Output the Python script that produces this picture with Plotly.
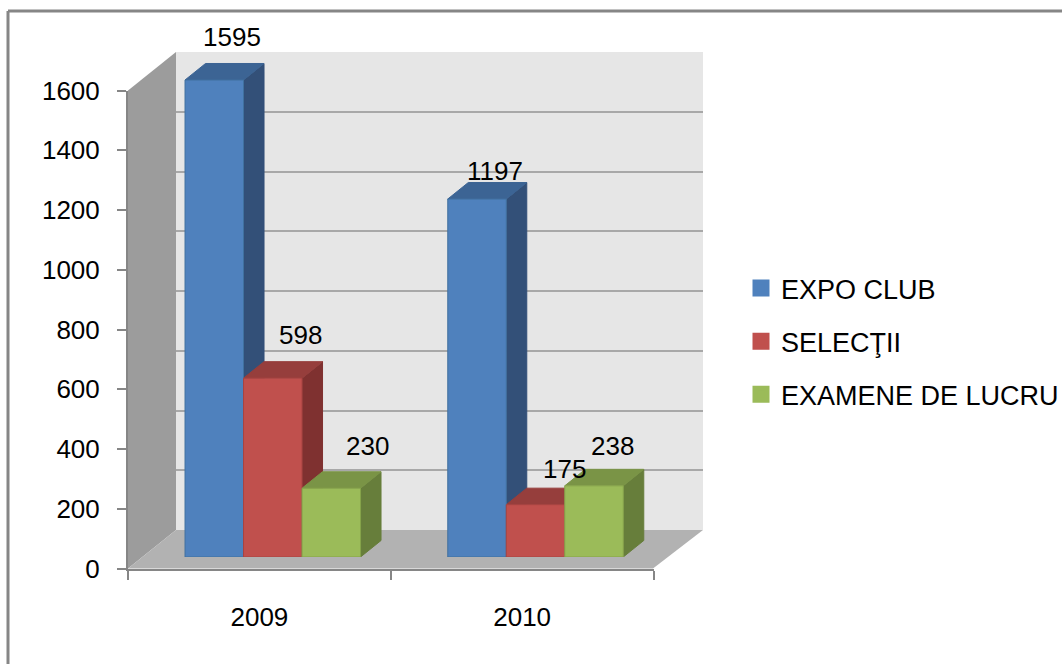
import plotly.graph_objects as go

YEARS = ["2009", "2010"]
SERIES = ["EXPO CLUB", "SELECŢII", "EXAMENE DE LUCRU"]
EXPO_CLUB = [1595, 1197]
SELECTII = [598, 175]
EXAMENE = [230, 238]
Y_TICKS = [0, 200, 400, 600, 800, 1000, 1200, 1400, 1600]

W, H = 1062, 664
FONT = "Liberation Sans, Arial, sans-serif"
FS = 26
LEG_FS = 27
GRID = "#a8a8a8"
AXIS = "#868686"

FRONT = ["#4f81bd", "#c0504d", "#9bbb59"]
TOP = ["#3c6494", "#963e3c", "#7a9446"]
SIDE = ["#335078", "#7f3130", "#677e3b"]
EDGE = ["#41719f", "#a84442", "#86a34b"]

# label nudges in pixels relative to the bar's top-centre: (dx, dy up)
LABEL_NUDGE = [[(18, 43), (18, 28)], [(28, 43), (29, 36)], [(36, 42), (18, 40)]]

PX_PER_UNIT = 478.5 / 1600
CAT_PX = 262.75
DEPTH_X = 20.5 / CAT_PX
DEPTH_Y = 16.5 / PX_PER_UNIT
WALL_X = 48 / 263.5
WALL_Y = 38.5 / (478 / 1600)
BAR_W = (175.5 / 3) / CAT_PX
FACE_TOP = 1750  # the depth faces need head-room above 1600


def px(x):
    return x / W


def py(y):
    return 1 - y / H


def poly(points, color):
    d = "M" + " L".join(f"{px(x)},{py(y)}" for x, y in points) + " Z"
    return dict(type="path", xref="paper", yref="paper", path=d, fillcolor=color,
                line=dict(width=0), layer="below")


def frame_line(x0, y0, x1, y1):
    return dict(type="line", xref="paper", yref="paper", x0=px(x0), y0=py(y0), x1=px(x1), y1=py(y1),
                line=dict(color=AXIS, width=3), layer="below")


shapes = [
    frame_line(8, 11, W, 11),
    frame_line(8, 11, 8, H),
    poly([(176, 52), (703, 52), (703, 530), (176, 530)], "#e6e6e6"),
    poly([(128, 90.5), (176, 52), (176, 530), (128, 568.5)], "#9c9c9c"),
    poly([(128, 568.5), (176, 530), (703, 530), (653, 568.5)], "#b2b2b2"),
]

fig = go.Figure()
data = [EXPO_CLUB, SELECTII, EXAMENE]

# grid lines continuing down the side wall
for v in Y_TICKS:
    fig.add_trace(go.Scatter(x=[-0.5, -0.5 - WALL_X], y=[v, v - WALL_Y], mode="lines",
                             line=dict(color="#8a8a8a", width=1), showlegend=False,
                             hoverinfo="skip", cliponaxis=False, xaxis="x", yaxis="y"))

# carrier for the front axes
fig.add_trace(go.Scatter(x=YEARS, y=[0, 0], mode="none", showlegend=False, hoverinfo="skip",
                         xaxis="x2", yaxis="y2"))

# depth faces, computed from the values
for c in range(2):
    for s, vals in enumerate(data):
        left = c - 1.5 * BAR_W + s * BAR_W
        right = left + BAR_W
        v = vals[c]
        fig.add_trace(go.Scatter(
            x=[right, right + DEPTH_X, right + DEPTH_X, right, right],
            y=[0, DEPTH_Y, v + DEPTH_Y, v, 0], mode="lines", fill="toself",
            fillcolor=SIDE[s], line=dict(color=SIDE[s], width=1), showlegend=False,
            hoverinfo="skip", cliponaxis=False, xaxis="x3", yaxis="y3"))
        fig.add_trace(go.Scatter(
            x=[left, left + DEPTH_X, right + DEPTH_X, right, left],
            y=[v, v + DEPTH_Y, v + DEPTH_Y, v, v], mode="lines", fill="toself",
            fillcolor=TOP[s], line=dict(color=TOP[s], width=1), showlegend=False,
            hoverinfo="skip", cliponaxis=False, xaxis="x3", yaxis="y3"))

# front faces
for s, (name, vals) in enumerate(zip(SERIES, data)):
    fig.add_trace(go.Bar(x=YEARS, y=vals, name=name, offsetgroup=str(s), showlegend=False,
                         marker=dict(color=FRONT[s], line=dict(color=EDGE[s], width=1)),
                         cliponaxis=False, xaxis="x4", yaxis="y4"))

# legend entries
for s, name in enumerate(SERIES):
    fig.add_trace(go.Bar(x=[None], y=[None], name=name, legendgroup=name, showlegend=True,
                         marker=dict(color=FRONT[s], line=dict(color=FRONT[s], width=6)),
                         xaxis="x4", yaxis="y4"))

annotations = []
for s, vals in enumerate(data):
    for c, v in enumerate(vals):
        dx, dy = LABEL_NUDGE[s][c]
        annotations.append(dict(x=c - 1.5 * BAR_W + (s + 0.5) * BAR_W, y=v, xref="x3", yref="y3",
                                text=str(v), showarrow=False, xshift=dx, yshift=dy,
                                xanchor="center", yanchor="middle",
                                font=dict(family=FONT, size=FS, color="black")))

hidden = dict(showgrid=False, zeroline=False, showline=False, showticklabels=False, ticks="")
face_top_px = 557 - FACE_TOP * PX_PER_UNIT

fig.update_layout(
    width=W, height=H, margin=dict(l=0, r=0, t=0, b=0, pad=0, autoexpand=False), autosize=False,
    paper_bgcolor="white", plot_bgcolor="rgba(0,0,0,0)",
    font=dict(family=FONT, size=FS, color="black"),
    barmode="group", bargap=0.332, bargroupgap=0,
    shapes=shapes, annotations=annotations,
    xaxis=dict(domain=[px(176), px(703)], range=[-0.5, 1.5], anchor="y", **hidden),
    yaxis=dict(domain=[py(530), py(52)], range=[0, 1600], anchor="x", tickvals=Y_TICKS,
               showgrid=True, gridcolor=GRID, gridwidth=2, zeroline=False, showline=False,
               showticklabels=False, ticks=""),
    xaxis2=dict(domain=[px(128), px(653.5)], range=[-0.5, 1.5], type="category",
                categoryorder="array", categoryarray=YEARS, anchor="y2",
                tickson="boundaries", ticks="outside", ticklen=9, tickcolor=AXIS, tickwidth=2,
                showline=True, linecolor=AXIS, linewidth=2, showgrid=False, zeroline=False,
                ticklabelstandoff=24, tickfont=dict(family=FONT, size=FS)),
    yaxis2=dict(domain=[py(568.5), py(90.5)], range=[0, 1600], anchor="x2", tickvals=Y_TICKS,
                ticks="outside", ticklen=9, tickcolor=AXIS, tickwidth=2,
                showline=True, linecolor=AXIS, linewidth=2, showgrid=False, zeroline=False,
                ticklabelstandoff=12, tickfont=dict(family=FONT, size=FS)),
    xaxis3=dict(domain=[px(141.4), px(666.9)], range=[-0.5, 1.5], anchor="y3", **hidden),
    yaxis3=dict(domain=[py(557), py(face_top_px)], range=[0, FACE_TOP], anchor="x3", **hidden),
    xaxis4=dict(domain=[px(141.4), px(666.9)], range=[-0.5, 1.5], type="category",
                categoryorder="array", categoryarray=YEARS, anchor="y4", **hidden),
    yaxis4=dict(domain=[py(557), py(78.5)], range=[0, 1600], anchor="x4", **hidden),
    legend=dict(x=px(741), y=py(264), xanchor="left", yanchor="top", tracegroupgap=15,
                bgcolor="rgba(0,0,0,0)", font=dict(family=FONT, size=LEG_FS), traceorder="grouped"),
)

fig.write_html("out.html", config=dict(displayModeBar=False),
               post_script="document.body.style.margin='0';document.body.style.overflow='hidden';")
